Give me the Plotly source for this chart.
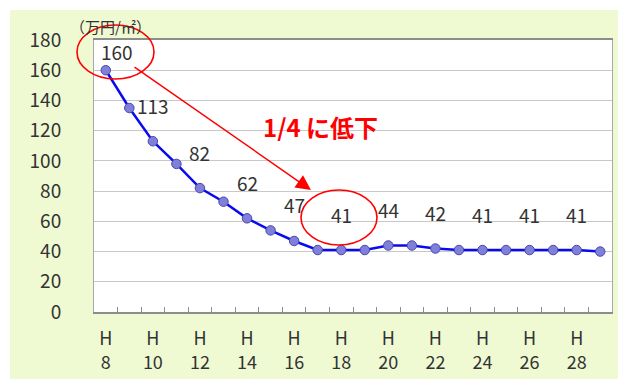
import plotly.graph_objects as go

# 平成8年〜29年の単価推移（万円/㎡）
years = list(range(8, 30))
prices = [160, 135, 113, 98, 82, 73, 62, 54, 47, 41, 41, 41, 44, 44, 42, 41, 41, 41, 41, 41, 41, 40]

label_years = [8, 10, 12, 14, 16, 18, 20, 22, 24, 26, 28]
tick_text = [f"H<br>{y}" for y in label_years]
y_ticks = list(range(0, 181, 20))

FONT = "Noto Sans CJK JP"
TXT = "#333333"
BG = "#EFFAD3"

# プロット領域（ピクセル）: 左94, 右612, 上40, 下312
PL, PW, PT, PH = 94, 518, 40, 272


def px(x):
    return (x - PL) / PW


def py(y):
    return (PT + PH - y) / PH


fig = go.Figure()
fig.add_trace(go.Scatter(
    x=years, y=prices, mode="lines+markers",
    line=dict(color="#0A0AF0", width=2.5),
    marker=dict(size=9.5, color="#8080DC", line=dict(color="#4848A8", width=1)),
    hoverinfo="skip",
))

# 偶数年の値ラベル
annotations = []
price_of = dict(zip(years, prices))
for y in label_years:
    first = y == years[0]
    annotations.append(dict(
        x=y, y=price_of[y], xref="x", yref="y", text=str(price_of[y]),
        xanchor="center", yanchor="middle",
        showarrow=False, font=dict(family=FONT, size=19, color=TXT),
        yshift=19 if first else 36, xshift=11 if first else 0,
    ))

# 単位
annotations.append(dict(
    x=px(110), y=py(27), xref="paper", yref="paper", text="（万円/㎡）",
    xanchor="center", yanchor="middle", showarrow=False,
    font=dict(family=FONT, size=15, color=TXT),
))

# 矢印と注記
annotations.append(dict(
    x=px(311), y=py(190), xref="paper", yref="paper",
    ax=-178, ay=-124, text="", showarrow=True,
    arrowhead=2, arrowsize=2, arrowwidth=1.5, arrowcolor="#FF0000",
))
annotations.append(dict(
    x=px(320), y=py(126), xref="paper", yref="paper",
    text="<b>1/4 に低下</b>", showarrow=False,
    xanchor="center", yanchor="middle",
    font=dict(family=FONT, size=24, color="#FF0000"),
))

shapes = [
    # 外枠の余白（白）
    dict(type="rect", xref="paper", yref="paper",
         x0=px(0), x1=px(620), y0=py(10), y1=py(0),
         fillcolor="white", line=dict(width=0), layer="below"),
    dict(type="rect", xref="paper", yref="paper",
         x0=px(0), x1=px(10), y0=py(381), y1=py(0),
         fillcolor="white", line=dict(width=0), layer="below"),
    # 楕円
    dict(type="circle", xref="paper", yref="paper",
         x0=px(77), x1=px(154), y0=py(79), y1=py(25),
         line=dict(color="#FF0000", width=1.6)),
    dict(type="circle", xref="paper", yref="paper",
         x0=px(301), x1=px(377), y0=py(245), y1=py(190),
         line=dict(color="#FF0000", width=1.6)),
]

fig.update_layout(
    width=618, height=379,
    margin=dict(l=PL, r=618 - PL - PW, t=PT, b=379 - PT - PH),
    paper_bgcolor=BG, plot_bgcolor="white",
    showlegend=False,
    annotations=annotations,
    shapes=shapes,
    xaxis=dict(
        range=[7.5, 29.5], tickmode="array", tickvals=label_years, ticktext=tick_text,
        ticks="", showgrid=False, zeroline=False, automargin=False,
        showline=True, linecolor="#8C8C8C", linewidth=1.5, mirror=True,
        tickfont=dict(family=FONT, size=18, color=TXT),
        ticklabelstandoff=10,
        minor=dict(tickvals=[y + 0.5 for y in years[:-1]], ticks="inside",
                   ticklen=5, tickcolor="#8C8C8C", tickwidth=1, showgrid=False),
    ),
    yaxis=dict(
        range=[0, 180], tickmode="array", tickvals=y_ticks,
        showgrid=True, gridcolor="#C8C8C8", gridwidth=1, zeroline=False,
        automargin=False,
        showline=True, linecolor="#A8A8A8", linewidth=1, mirror=True,
        tickfont=dict(family=FONT, size=19, color=TXT),
        ticklabelstandoff=28, ticks="",
    ),
)

fig.write_html("out.html")
